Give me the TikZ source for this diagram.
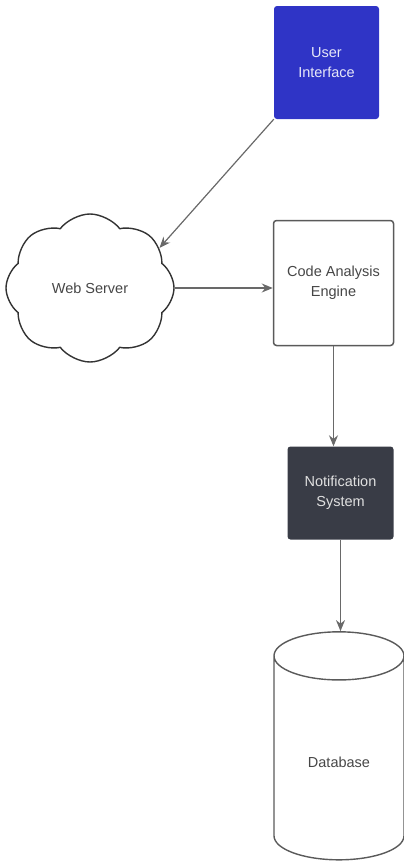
\documentclass[tikz,border=0pt]{standalone}
\usepackage{fontspec}
\setmainfont{Liberation Sans}
\usetikzlibrary{arrows.meta,positioning,shapes.geometric,shapes.symbols}

\definecolor{uiblue}{RGB}{47,52,198}
\definecolor{nsdark}{RGB}{57,60,70}
\definecolor{edgegray}{RGB}{90,90,90}
\definecolor{arrowgray}{RGB}{105,105,105}
\definecolor{textgray}{RGB}{70,70,70}

\tikzset{
  every node/.style={font=\fontsize{14.5}{20}\selectfont, align=center},
  box/.style={rectangle, rounded corners=3pt, inner sep=0pt},
  flow/.style={->, draw=arrowgray, line width=1.2pt},
  >={Stealth[length=11pt,width=9pt]}
}

\begin{document}
\begin{tikzpicture}[x=1pt,y=-1pt]

    \useasboundingbox (0,0) rectangle (404,863);

    %% top of the chain
    \node[box, fill=uiblue, text=white!88!uiblue, minimum width=105pt, minimum height=113pt] (ui) at (326.5,62.5) {User\\Interface};

    %% web server cloud
    \node[cloud, draw=black!80, line width=1.4pt, cloud puffs=8, cloud puff arc=105, aspect=1.1,
          minimum width=168pt, minimum height=148pt, text=textgray] (web) at (90,288) {Web Server};

    %% analysis engine
    \node[box, draw=edgegray, line width=1.5pt, fill=white, text=textgray, minimum width=120pt, minimum height=125pt] (cae) at (333.5,283) {Code Analysis\\Engine};

    % notification system
    \node[box, fill=nsdark, text=black!12, minimum width=106pt, minimum height=93pt] (ns) at (340.5,493) {Notification\\System};

    % database
    \node[cylinder, shape border rotate=90, draw=edgegray, line width=1.4pt, aspect=0.7,
          minimum height=228pt, minimum width=130pt, text=textgray] (db) at (339,762) {Database};

    %% connectors
    \draw[flow] (ui.south west) -- (web.30);
    \draw[flow] (web.east) -- (web.east -| cae.west);
    \draw[flow] (cae.south) -- (cae.south |- ns.north);
    \draw[flow] (ns.south) -- (ns.south |- db.north);
  \end{tikzpicture}
\end{document}
